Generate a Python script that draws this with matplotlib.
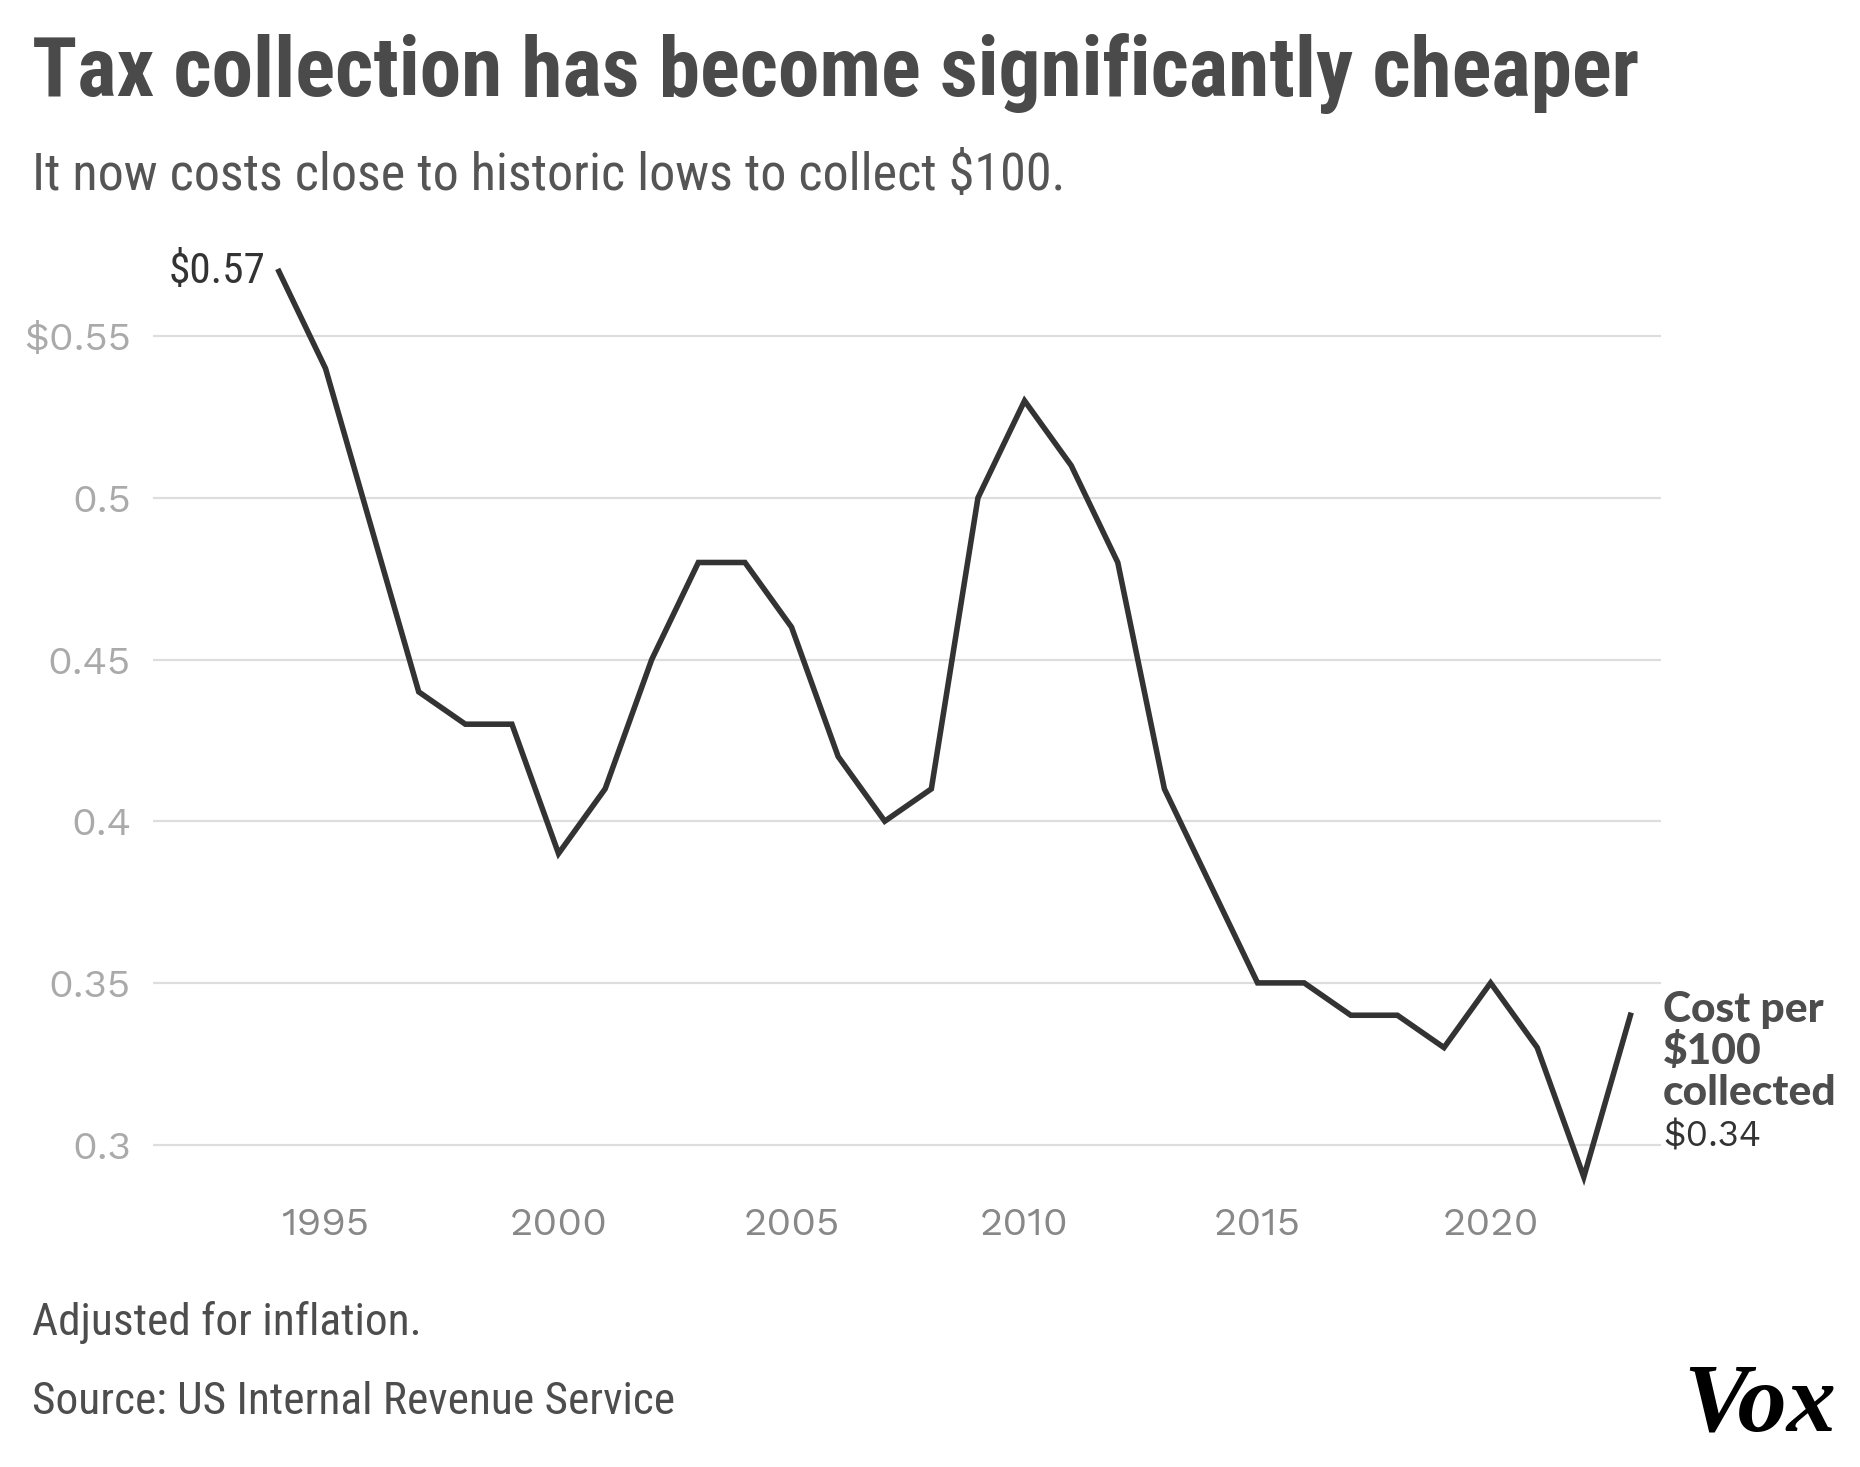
import matplotlib
matplotlib.use("Agg")
import matplotlib.pyplot as plt

years = list(range(1994, 2024))
cost = [0.57, 0.54, 0.49, 0.44, 0.43, 0.43, 0.39, 0.41, 0.45, 0.48,
        0.48, 0.46, 0.42, 0.40, 0.41, 0.50, 0.53, 0.51, 0.48, 0.41,
        0.38, 0.35, 0.35, 0.34, 0.34, 0.33, 0.35, 0.33, 0.29, 0.34]
ytick_vals = [0.30, 0.35, 0.40, 0.45, 0.50, 0.55]
ytick_labels = ["0.3", "0.35", "0.4", "0.45", "0.5", "$0.55"]
xtick_vals = [1995, 2000, 2005, 2010, 2015, 2020]

title = "Tax collection has become significantly cheaper"
subtitle = "It now costs close to historic lows to collect $100."
note = "Adjusted for inflation."
source = "Source: US Internal Revenue Service"
end_label = ["Cost per", "$100", "collected"]

W, H = 1860, 1467
fig = plt.figure(figsize=(W / 100, H / 100), dpi=100)
fig.patch.set_facecolor("white")
renderer = fig.canvas.get_renderer()

cond_bold = ["Roboto Condensed", "Barlow Condensed", "DejaVu Sans"]
cond = ["Roboto Condensed", "Barlow Semi Condensed", "DejaVu Sans"]
wide = ["Work Sans", "Lato", "DejaVu Sans"]
heavy = ["Lato", "DejaVu Sans"]
logo = ["Liberation Serif", "DejaVu Serif"]


def fx(px):
    return px / W


def fy(py):
    return 1 - py / H


def fit(t, target):
    w = t.get_window_extent(renderer).width
    if w > 0:
        t.set_fontsize(t.get_fontsize() * target / w)
    return t


ax = fig.add_axes([0.0823, 0.1867, 0.8108, 0.6393])
ax.plot(years, cost, color="#333333", lw=4.0, solid_joinstyle="miter", zorder=3)
ax.set_xlim(1991.3, 2023.66)
ax.set_ylim(0.285, 0.575)
for s in ax.spines.values():
    s.set_visible(False)
ax.set_yticks(ytick_vals)
ax.set_yticklabels(ytick_labels)
ax.set_xticks(xtick_vals)
ax.set_xticklabels([str(v) for v in xtick_vals])
ax.grid(axis="y", color="#dddddd", lw=1.6, zorder=0)
ax.grid(axis="x", visible=False)

# size tick font so that "1995" is ~88px wide like the reference
probe = fig.text(0, 0, "1995", fontsize=24, family=wide)
fit(probe, 88)
tick_fs = probe.get_fontsize()
probe.remove()

ax.tick_params(axis="y", length=0, pad=22 * 0.72, labelcolor="#aaaaaa", labelsize=tick_fs)
ax.tick_params(axis="x", length=0, pad=10, labelcolor="#888888", labelsize=tick_fs)
for lab in ax.get_yticklabels() + ax.get_xticklabels():
    lab.set_family(wide)

# first-point label
t57 = ax.annotate("$0.57", xy=(years[0], cost[0]), xytext=(-10, 0), textcoords="offset points",
                  ha="right", va="center", fontsize=28, color="#333333", family=cond)
fit(t57, 97)

# end label
end_y = [1022, 1063.5, 1105]
end_texts = []
for txt, yy in zip(end_label, end_y):
    end_texts.append(fig.text(fx(1663), fy(yy), txt, ha="left", va="baseline", fontsize=28,
                              fontweight="black", color="#4d4d4d", family=heavy))
fit(end_texts[2], 173)
for t in end_texts[:2]:
    t.set_fontsize(end_texts[2].get_fontsize())
t34 = fig.text(fx(1663), fy(1147), "$0.34", ha="left", va="baseline", fontsize=28,
               color="#333333", family=wide)
fit(t34, 98)

tt = fig.text(fx(32), fy(96), title, ha="left", va="baseline", fontsize=50,
              fontweight="bold", color="#4a4a4a", family=cond_bold)
fit(tt, 1610)
st = fig.text(fx(32), fy(190), subtitle, ha="left", va="baseline", fontsize=34,
              color="#555555", family=cond)
fit(st, 1035)
nt = fig.text(fx(32), fy(1335), note, ha="left", va="baseline", fontsize=28,
              color="#4d4d4d", family=cond)
srct = fig.text(fx(32), fy(1414), source, ha="left", va="baseline", fontsize=28,
                color="#4d4d4d", family=cond)
fit(srct, 642)
nt.set_fontsize(srct.get_fontsize())
vx = fig.text(fx(1836), fy(1431), "Vox", ha="right", va="baseline", fontsize=66,
              fontweight="bold", style="italic", color="#000000", family=logo)
fit(vx, 153)

fig.savefig("out.png", dpi=100, facecolor="white")
